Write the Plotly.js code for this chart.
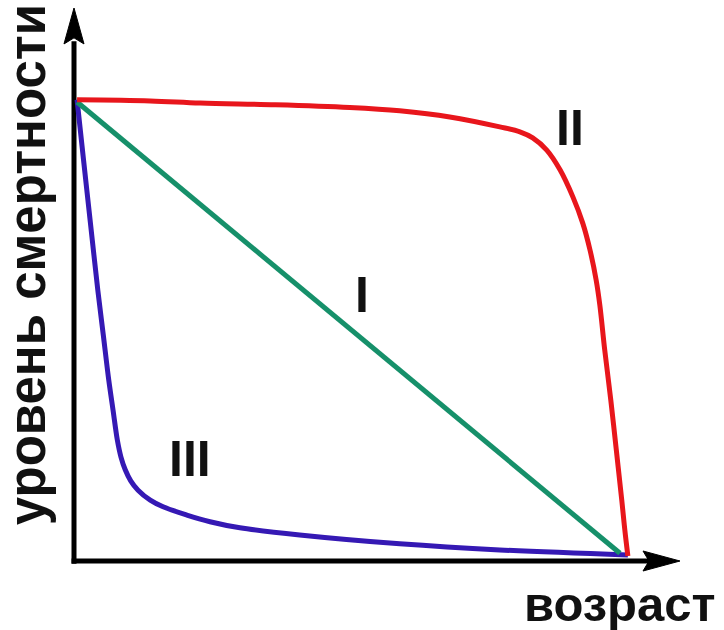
<!DOCTYPE html>
<html>
<head>
<meta charset="utf-8">
<script src="https://cdn.plot.ly/plotly-3.0.1.min.js"></script>
<style>
  body { margin: 0; background: #fff; }
  #myPlot { width: 724px; height: 630px; }
</style>
</head>
<body>
<div id="myPlot"></div>
<script>
// age on a 0..100 scale, mortality on a 0..100 scale
let ageI = [0.5, 89.5]
let mortI = [83.0, 1.4]

let ageII = [0.5, 12.5, 20.7, 33.0, 45.2, 53.4, 61.6, 69.8, 73.1, 75.2, 77.5, 79.7, 81.8, 83.4, 84.6, 85.6, 86.2, 87.0, 88.0, 88.9, 89.8, 90.3, 90.8]
let mortII = [83.4, 83.2, 82.8, 82.5, 82.0, 81.4, 80.3, 78.5, 77.6, 76.5, 74.3, 70.7, 65.8, 61.1, 56.2, 50.8, 46.3, 38.2, 29.1, 20.1, 11.0, 5.6, 0.9]

let ageIII = [0.5, 1.3, 2.1, 3.0, 3.9, 4.8, 5.7, 6.4, 7.1, 7.7, 8.4, 9.3, 10.5, 12.5, 14.6, 18.5, 22.3, 27.2, 37.0, 53.4, 69.8, 90.8]
let mortIII = [83.4, 75.2, 67.1, 58.0, 49.0, 40.9, 32.7, 27.3, 21.9, 18.8, 16.5, 14.5, 12.8, 11.0, 9.8, 8.3, 7.1, 6.0, 4.7, 3.1, 2.0, 1.1]

let labels = ["I", "II", "III"]
let labelAge = [47.2, 81.3, 19.0]
let labelMort = [48.1, 78.3, 18.4]

let fontFam = "Liberation Sans, Arial, sans-serif"

let data = [
    {x: ageIII, y: mortIII, mode: "lines", line: {color: "#3519b4", width: 5, shape: "spline", smoothing: 1}},
    {x: ageI, y: mortI, mode: "lines", line: {color: "#16906a", width: 5}},
    {x: ageII, y: mortII, mode: "lines", line: {color: "#e8161c", width: 5, shape: "spline", smoothing: 1}}
]

let annotations = []
labels.forEach((t, i) => {
    annotations.push({
        x: labelAge[i], y: labelMort[i], xref: "x", yref: "y",
        text: t, showarrow: false,
        font: {family: fontFam, size: 50, weight: "bold", color: "#111"}
    })
})
// axis titles
annotations.push({
    x: 0.895, y: -0.078, xref: "paper", yref: "paper",
    text: "возраст", showarrow: false, xanchor: "center", yanchor: "middle",
    font: {family: fontFam, size: 49, weight: "bold", color: "#111"}
})
annotations.push({
    x: -0.077, y: 0.535, xref: "paper", yref: "paper",
    text: "уровень смертности", textangle: -90, showarrow: false,
    xanchor: "center", yanchor: "middle",
    font: {family: fontFam, size: 51, weight: "bold", color: "#111"}
})

// axes with arrows
let shapes = [
    {type: "line", xref: "paper", yref: "paper", x0: 0, x1: 0, y0: -0.005, y1: 0.94, line: {color: "#000", width: 5}, layer: "below"},
    {type: "line", xref: "paper", yref: "paper", x0: -0.004, x1: 0.945, y0: 0, y1: 0, line: {color: "#000", width: 5}, layer: "below"},
    {type: "path", xref: "paper", yref: "paper", path: "M -0.0164,0.935 L 0,1.0 L 0.0164,0.935 L 0,0.946 Z", fillcolor: "#000", line: {color: "#000", width: 1}, layer: "below"},
    {type: "path", xref: "paper", yref: "paper", path: "M 0.9328,0.0181 L 0.9934,0 L 0.9328,-0.0181 L 0.9426,0 Z", fillcolor: "#000", line: {color: "#000", width: 1}, layer: "below"}
]

let layout = {
    width: 724, height: 630,
    margin: {l: 74, r: 40, t: 8, b: 69},
    paper_bgcolor: "#fff", plot_bgcolor: "#fff",
    showlegend: false,
    xaxis: {range: [0, 100], visible: false, fixedrange: true},
    yaxis: {range: [0, 100], visible: false, fixedrange: true},
    annotations: annotations,
    shapes: shapes
}

Plotly.newPlot("myPlot", data, layout, {staticPlot: true, displayModeBar: false})
</script>
</body>
</html>
